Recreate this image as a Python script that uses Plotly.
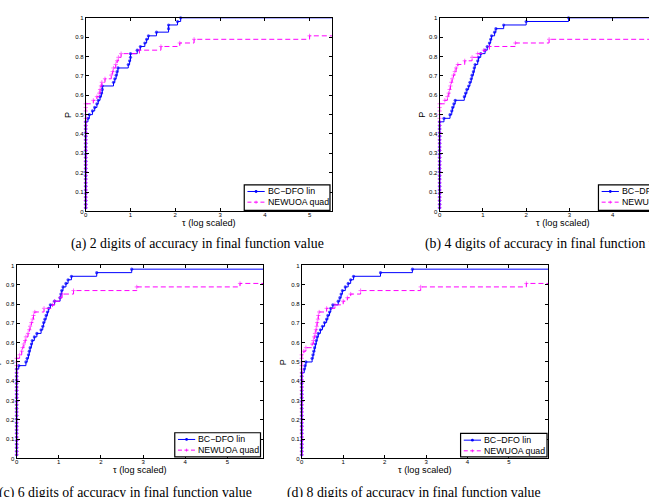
import plotly.graph_objects as go

W, H = 649, 497

# ---------------- data ----------------
X_TICKS = [0, 1, 2, 3, 4, 5]
Y_TICKS = [0, 0.1, 0.2, 0.3, 0.4, 0.5, 0.6, 0.7, 0.8, 0.9, 1.0]
Y_TICK_TEXT = ["0", "0.1", "0.2", "0.3", "0.4", "0.5", "0.6", "0.7", "0.8", "0.9", "1"]

# fractions of problems reached at tau = 0 (stacked vertical steps)
BASE_LEVELS = [0.019, 0.037, 0.056, 0.074, 0.093, 0.111, 0.130, 0.148, 0.167, 0.185,
               0.204, 0.222, 0.241, 0.259, 0.278, 0.296, 0.315, 0.333, 0.352, 0.370,
               0.389, 0.407, 0.426, 0.444, 0.463, 0.481, 0.500, 0.519, 0.537, 0.556]

SERIES_NAMES = ["BC\u2212DFO lin", "NEWUOA quad"]

# (a) 2 digits
A_BC_START = 0.463
A_BC_TAU = [0.05, 0.08, 0.15, 0.20, 0.25, 0.28, 0.32, 0.35, 0.37, 0.37, 0.62, 0.65, 0.68, 0.70,
            0.72, 0.95, 0.98, 1.00, 1.00, 1.15, 1.22, 1.32, 1.36, 1.40, 1.58, 1.85, 1.85, 2.05, 2.12]
A_BC_P = [0.481, 0.500, 0.519, 0.537, 0.556, 0.574, 0.593, 0.611, 0.630, 0.648, 0.667, 0.685,
          0.704, 0.722, 0.741, 0.759, 0.778, 0.796, 0.815, 0.833, 0.852, 0.870, 0.889, 0.907,
          0.926, 0.944, 0.963, 0.981, 1.000]
A_NW_START = 0.556
A_NW_TAU = [0.17, 0.25, 0.30, 0.32, 0.34, 0.36, 0.43, 0.57, 0.60, 0.62, 0.67, 0.70, 0.73, 0.79,
            1.20, 1.68, 2.10, 2.42, 5.00]
A_NW_P = [0.574, 0.593, 0.611, 0.630, 0.648, 0.667, 0.685, 0.704, 0.722, 0.741, 0.759, 0.778,
          0.796, 0.815, 0.833, 0.852, 0.870, 0.889, 0.907]

# (b) 4 digits
B_BC_START = 0.463
B_BC_TAU = [0.10, 0.24, 0.28, 0.30, 0.33, 0.36, 0.57, 0.60, 0.63, 0.67, 0.70, 0.73, 0.75, 0.78,
            0.80, 0.82, 0.88, 0.90, 0.95, 1.05, 1.10, 1.15, 1.18, 1.20, 1.27, 1.30, 1.48, 2.00, 2.98]
B_BC_P = [0.481, 0.500, 0.519, 0.537, 0.556, 0.574, 0.593, 0.611, 0.630, 0.648, 0.667, 0.685,
          0.704, 0.722, 0.741, 0.759, 0.778, 0.796, 0.815, 0.833, 0.852, 0.870, 0.889, 0.907,
          0.926, 0.944, 0.963, 0.981, 1.000]
B_NW_START = 0.556
B_NW_TAU = [0.12, 0.18, 0.21, 0.23, 0.25, 0.27, 0.29, 0.32, 0.35, 0.38, 0.42, 0.58, 0.75, 0.88,
            1.02, 1.15, 1.75, 2.53]
B_NW_P = [0.574, 0.593, 0.611, 0.630, 0.648, 0.667, 0.685, 0.704, 0.722, 0.741, 0.759, 0.778,
          0.796, 0.815, 0.833, 0.852, 0.870, 0.889]

# (c) 6 digits
C_BC_START = 0.463
C_BC_TAU = [0.05, 0.22, 0.25, 0.28, 0.30, 0.32, 0.35, 0.37, 0.42, 0.48, 0.58, 0.62, 0.64, 0.67,
            0.70, 0.73, 0.76, 0.80, 0.90, 1.03, 1.05, 1.07, 1.10, 1.17, 1.22, 1.30, 1.90, 2.73]
C_BC_P = [0.481, 0.500, 0.519, 0.537, 0.556, 0.574, 0.593, 0.611, 0.630, 0.648, 0.667, 0.685,
          0.704, 0.722, 0.741, 0.759, 0.778, 0.796, 0.815, 0.833, 0.852, 0.870, 0.889, 0.907,
          0.926, 0.944, 0.963, 0.981]
C_NW_START = 0.519
C_NW_TAU = [0.07, 0.12, 0.14, 0.17, 0.20, 0.22, 0.27, 0.30, 0.32, 0.35, 0.38, 0.40, 0.43, 0.65,
            0.85, 0.90, 1.03, 1.08, 1.35, 2.85, 5.30]
C_NW_P = [0.537, 0.556, 0.574, 0.593, 0.611, 0.630, 0.648, 0.667, 0.685, 0.704, 0.722, 0.741,
          0.759, 0.778, 0.796, 0.815, 0.833, 0.852, 0.870, 0.889, 0.907]

# (d) 8 digits
D_BC_START = 0.444
D_BC_TAU = [0.06, 0.08, 0.10, 0.25, 0.27, 0.29, 0.31, 0.33, 0.35, 0.37, 0.40, 0.45, 0.50, 0.55,
            0.60, 0.63, 0.67, 0.70, 0.75, 0.88, 0.92, 0.95, 0.98, 1.05, 1.12, 1.18, 1.25, 1.90, 2.67]
D_BC_P = [0.463, 0.481, 0.500, 0.519, 0.537, 0.556, 0.574, 0.593, 0.611, 0.630, 0.648, 0.667,
          0.685, 0.704, 0.722, 0.741, 0.759, 0.778, 0.796, 0.815, 0.833, 0.852, 0.870, 0.889,
          0.907, 0.926, 0.944, 0.963, 0.981]
D_NW_START = 0.537
D_NW_TAU = [0.05, 0.10, 0.25, 0.28, 0.30, 0.32, 0.34, 0.36, 0.37, 0.39, 0.40, 0.42, 0.60, 0.80,
            1.00, 1.10, 1.18, 1.42, 2.87, 5.42]
D_NW_P = [0.556, 0.574, 0.593, 0.611, 0.630, 0.648, 0.667, 0.685, 0.704, 0.722, 0.741, 0.759,
          0.778, 0.796, 0.815, 0.833, 0.852, 0.870, 0.889, 0.907]

CAPTIONS = ["(a) 2 digits of accuracy in final function value",
            "(b) 4 digits of accuracy in final function value",
            "(c) 6 digits of accuracy in final function value",
            "(d) 8 digits of accuracy in final function value"]
X_TITLE = "\u03c4 (log scaled)"
Y_TITLE = "P"

# ---------------- layout geometry (pixels) ----------------
def fx(px):
    return px / W

def fy(py):
    return 1 - py / H

PANELS = [
    dict(l=84, r=331, t=15, b=211, xmax=5.5, mirror_y=True,
         series=[(A_BC_START, A_BC_TAU, A_BC_P), (A_NW_START, A_NW_TAU, A_NW_P)],
         leg=(243, 184, 329, 210), cap_x=196.5, cap_y=244),
    dict(l=439, r=649, t=15, b=211, xmax=(649 - 439) / 43.4, mirror_y=False,
         series=[(B_BC_START, B_BC_TAU, B_BC_P), (B_NW_START, B_NW_TAU, B_NW_P)],
         leg=(598.3, 184, 700, 210), cap_x=551.5, cap_y=244, full_w=247),
    dict(l=14.7, r=262, t=265.7, b=461, xmax=5.85, mirror_y=True,
         series=[(C_BC_START, C_BC_TAU, C_BC_P), (C_NW_START, C_NW_TAU, C_NW_P)],
         leg=(173.3, 435, 259.3, 459.5), cap_x=124, cap_y=496),
    dict(l=300.7, r=548, t=265.7, b=461, xmax=5.95, mirror_y=True,
         series=[(D_BC_START, D_BC_TAU, D_BC_P), (D_NW_START, D_NW_TAU, D_NW_P)],
         leg=(460, 435.7, 546.7, 459.5), cap_x=413, cap_y=496),
]

BLUE = "#0000ff"
MAG = "#ff00ff"
AX_FONT = dict(family="Liberation Sans, Arial, sans-serif", size=6, color="black")

fig = go.Figure()
layout = dict(width=W, height=H, margin=dict(l=0, r=0, t=0, b=0),
              paper_bgcolor="white", plot_bgcolor="white", showlegend=False)
shapes = []
annotations = []

for i, pn in enumerate(PANELS):
    k = "" if i == 0 else str(i + 1)
    xa, ya = "x" + k, "y" + k
    for j, (start, tau, p) in enumerate(pn["series"]):
        base = [v for v in BASE_LEVELS if v <= start + 1e-9]
        xs = [0] * len(base) + list(tau) + [pn["xmax"]]
        ys = base + list(p) + [p[-1]]
        sizes = [1] * (len(xs) - 1) + [0]
        if j == 0:
            line = dict(color=BLUE, width=1)
            marker = dict(symbol="circle", size=[3.2 * s for s in sizes], color=BLUE,
                          line=dict(width=0))
        else:
            line = dict(color=MAG, width=1, dash="5px,3px")
            marker = dict(symbol="cross-thin", size=[3 * s for s in sizes], color=MAG,
                          line=dict(width=0.8, color=MAG))
        fig.add_trace(go.Scatter(x=xs, y=ys, mode="lines+markers", line=line,
                                 line_shape="hv", marker=marker, name=SERIES_NAMES[j],
                                 xaxis=xa, yaxis=ya, cliponaxis=False, hoverinfo="skip"))
    layout["xaxis" + k] = dict(
        domain=[fx(pn["l"]), min(1.0, fx(pn["r"]))], anchor=ya, range=[0, pn["xmax"]],
        tickmode="array", tickvals=X_TICKS, ticktext=[str(v) for v in X_TICKS],
        ticks="inside", ticklen=3, tickwidth=1, tickcolor="black",
        showline=True, linecolor="black", linewidth=1, mirror="ticks",
        ticklabelstandoff=-3,
        showgrid=False, zeroline=False, tickfont=AX_FONT, fixedrange=True)
    layout["yaxis" + k] = dict(
        domain=[fy(pn["b"]), fy(pn["t"])], anchor=xa, range=[0, 1],
        tickmode="array", tickvals=Y_TICKS, ticktext=Y_TICK_TEXT,
        ticks="inside", ticklen=3, tickwidth=1, tickcolor="black",
        showline=True, linecolor="black", linewidth=1,
        mirror="ticks" if pn["mirror_y"] else False,
        showgrid=False, zeroline=False, tickfont=AX_FONT, fixedrange=True)

    # axis titles
    cx = pn["l"] + pn.get("full_w", pn["r"] - pn["l"]) / 2
    annotations.append(dict(x=fx(cx), y=fy(pn["b"] + 12), xref="paper", yref="paper",
                            text=X_TITLE, showarrow=False, xanchor="center", yanchor="middle",
                            font=dict(family="Liberation Sans, Arial, sans-serif", size=9.2,
                                      color="black")))
    annotations.append(dict(x=fx(pn["l"] - 18), y=fy((pn["t"] + pn["b"]) / 2 + 0.5),
                            xref="paper", yref="paper", text=Y_TITLE, showarrow=False,
                            textangle=-90, xanchor="center", yanchor="middle",
                            font=dict(family="Liberation Sans, Arial, sans-serif", size=9,
                                      color="black")))
    # caption
    annotations.append(dict(x=fx(pn["cap_x"]), y=fy(pn["cap_y"]), xref="paper", yref="paper",
                            text=CAPTIONS[i], showarrow=False, xanchor="center",
                            yanchor="middle",
                            font=dict(family="Liberation Serif, Times New Roman, serif",
                                      size=13.8, color="black")))

    # legend (drawn manually)
    lx0, ly0, lx1, ly1 = pn["leg"]
    shapes.append(dict(type="rect", xref="paper", yref="paper", x0=fx(lx0), x1=fx(lx1),
                       y0=fy(ly1), y1=fy(ly0), line=dict(color="black", width=1.2),
                       fillcolor="white", layer="above"))
    rows = [ly0 + 6.8, ly0 + 17.6]
    sx0, sx1 = lx0 + 3.2, lx0 + 20.5
    smid = (sx0 + sx1) / 2
    for j, ry in enumerate(rows):
        if j == 0:
            shapes.append(dict(type="line", xref="paper", yref="paper", x0=fx(sx0), x1=fx(sx1),
                               y0=fy(ry), y1=fy(ry), line=dict(color=BLUE, width=1),
                               layer="above"))
            shapes.append(dict(type="circle", xref="paper", yref="paper",
                               x0=fx(smid - 1.4), x1=fx(smid + 1.4),
                               y0=fy(ry + 1.4), y1=fy(ry - 1.4),
                               line=dict(color=BLUE, width=0), fillcolor=BLUE, layer="above"))
        else:
            shapes.append(dict(type="line", xref="paper", yref="paper", x0=fx(sx0), x1=fx(sx1),
                               y0=fy(ry), y1=fy(ry), line=dict(color=MAG, width=1, dash="4px,2.5px"),
                               layer="above"))
            shapes.append(dict(type="line", xref="paper", yref="paper", x0=fx(smid), x1=fx(smid),
                               y0=fy(ry + 1.5), y1=fy(ry - 1.5), line=dict(color=MAG, width=0.8),
                               layer="above"))
        annotations.append(dict(x=fx(sx1 + 1.2), y=fy(ry), xref="paper", yref="paper",
                                text=SERIES_NAMES[j], showarrow=False, xanchor="left",
                                yanchor="middle",
                                font=dict(family="Liberation Sans, Arial, sans-serif",
                                          size=8.8, color="black")))

layout["shapes"] = shapes
layout["annotations"] = annotations
fig.update_layout(**layout)
fig.write_html("out.html")
